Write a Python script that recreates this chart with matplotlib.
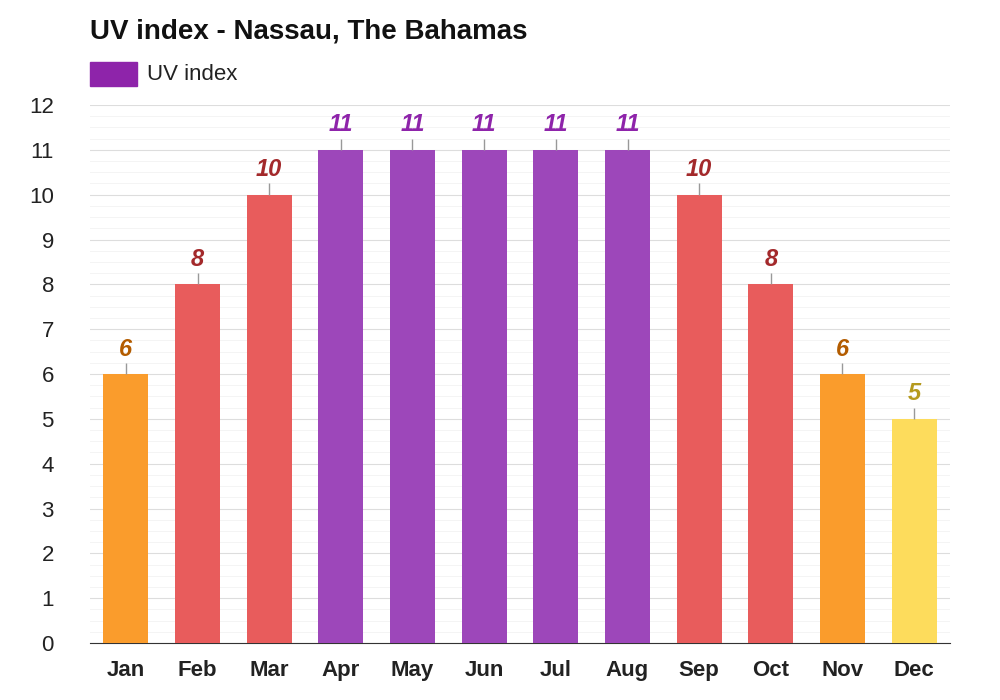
import matplotlib
matplotlib.use("Agg")
import matplotlib.pyplot as plt
import matplotlib.patches as patches
import numpy as np

plt.rcParams["font.family"] = "Liberation Sans"

months = ["Jan", "Feb", "Mar", "Apr", "May", "Jun", "Jul", "Aug", "Sep", "Oct", "Nov", "Dec"]
uv_index = [6, 8, 10, 11, 11, 11, 11, 11, 10, 8, 6, 5]

def bar_colors(v):
    # (fill, label colour) per UV level
    if v >= 11:
        return "#9d47ba", "#8e24aa"
    if v >= 8:
        return "#e85c5c", "#a3292b"
    if v >= 6:
        return "#fa9c2c", "#b35c00"
    return "#fddc5c", "#b59a1e"

fig = plt.figure(figsize=(10, 7), dpi=100)
ax = fig.add_axes([0.09, 0.0814, 0.86, 0.7686])

x = np.arange(len(months))
for xi, v in zip(x, uv_index):
    fill, lab = bar_colors(v)
    ax.bar(xi, v, width=0.63, color=fill, zorder=3)
    ax.vlines(xi, v, v + 0.25, color="#999999", linewidth=1, zorder=3)
    ax.text(xi, v + 0.3, str(v), ha="center", va="bottom", fontsize=17,
            fontweight="bold", fontstyle="italic", color=lab, zorder=4)

ax.set_xlim(-0.5, 11.5)
ax.set_ylim(0, 12)
ax.set_yticks(range(0, 13))
ax.set_yticks(np.arange(0, 12, 0.25), minor=True)
ax.grid(axis="y", which="major", color="#dddddd", linewidth=0.8, zorder=0)
ax.grid(axis="y", which="minor", color="#f2f2f2", linewidth=0.6, zorder=0)
ax.tick_params(axis="y", which="both", length=0, labelsize=16, colors="#222222", pad=26)
ax.set_xticks(x)
ax.set_xticklabels(months, fontsize=16, fontweight="bold")
ax.tick_params(axis="x", length=0, pad=12, colors="#222222")
for s in ["top", "right", "left"]:
    ax.spines[s].set_visible(False)
ax.spines["bottom"].set_color("#333333")

fig.text(0.09, 0.955, "UV index - Nassau, The Bahamas", fontsize=20, fontweight="bold",
         ha="left", va="center", color="#111111")
fig.patches.append(patches.Rectangle((0.09, 0.877), 0.047, 0.034, transform=fig.transFigure,
                                     color="#8e24aa", figure=fig))
fig.text(0.147, 0.894, "UV index", fontsize=16, ha="left", va="center", color="#222222")

fig.savefig("out.png", dpi=100)
